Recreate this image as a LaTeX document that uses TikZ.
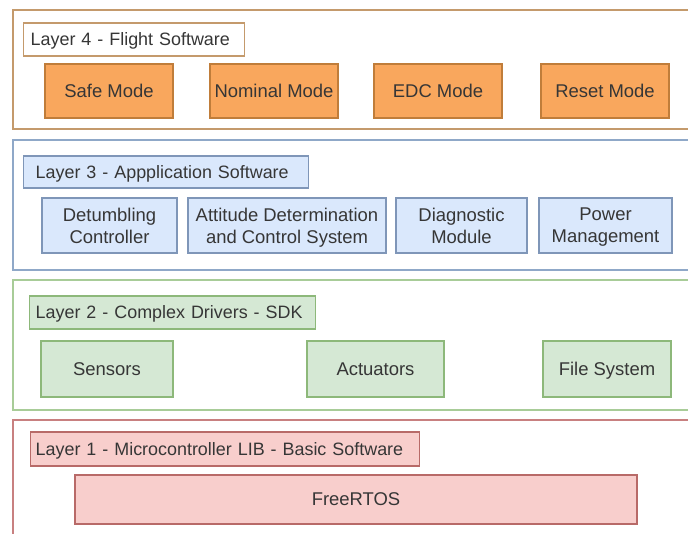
\documentclass[tikz,border=0pt]{standalone}
\usepackage{fontspec}
\setmainfont{Liberation Sans}
\usepackage{xcolor}
\usepackage{tikz}
\definecolor{textgray}{HTML}{363636}
\definecolor{flightline}{HTML}{C49A6C}
\definecolor{flightfill}{HTML}{F9A75D}
\definecolor{flightbox}{HTML}{C07D3A}
\definecolor{appline}{HTML}{8FA8C8}
\definecolor{appfill}{HTML}{DAE8FC}
\definecolor{appbox}{HTML}{7F96B8}
\definecolor{drvline}{HTML}{A8CC98}
\definecolor{drvfill}{HTML}{D5E8D4}
\definecolor{drvbox}{HTML}{8DB87A}
\definecolor{basicline}{HTML}{C88080}
\definecolor{basicfill}{HTML}{F8CECC}
\definecolor{basicbox}{HTML}{B86A68}

\begin{document}
\begin{tikzpicture}[x=0.02cm, y=-0.02cm,
  box/.style={draw, line width=0.8pt, text=textgray, align=center, inner sep=0pt,
    text depth=0pt, font=\fontsize{10.5}{12.6}\selectfont},
  title/.style={box, align=left, inner xsep=0.12cm, anchor=west,
    font=\fontsize{10.2}{12}\selectfont},
  frame/.style={line width=1.1pt}]
  \path[use as bounding box, clip] (0,0) rectangle (688,533);
  \fill[white] (0,0) rectangle (688,533);

  % Layer 4
  \draw[frame, flightline] (13,10) rectangle (700,129);
  \node[title, fill=white, draw=flightline, inner xsep=0.14cm, minimum height=0.66cm,
    text width=4.14cm] (flight) at (23,39.5) {\mbox{Layer 4 - Flight Software}};
  \node[box, fill=flightfill, draw=flightbox, minimum width=2.56cm, minimum height=1.08cm]
    (safe) at (109,91) {Safe Mode};
  \node[box, fill=flightfill, draw=flightbox, minimum width=2.56cm, minimum height=1.08cm]
    (nominal) at (274,91) {Nominal Mode};
  \node[box, fill=flightfill, draw=flightbox, minimum width=2.56cm, minimum height=1.08cm]
    (edc) at (438,91) {EDC Mode};
  \node[box, fill=flightfill, draw=flightbox, minimum width=2.56cm, minimum height=1.08cm]
    (reset) at (605,91) {Reset Mode};

  % Layer 3
  \draw[frame, appline] (13,140) rectangle (700,270);
  \node[title, fill=appfill, draw=appbox, inner xsep=0.24cm, minimum height=0.64cm,
    text width=5.22cm] (app) at (23,172) {\mbox{Layer 3 - Appplication Software}};
  \node[box, fill=appfill, draw=appbox, minimum width=2.70cm, minimum height=1.10cm]
    (detumble) at (109.5,225.5) {Detumbling\\Controller};
  \node[box, fill=appfill, draw=appbox, minimum width=3.96cm, minimum height=1.10cm]
    (adcs) at (287,225.5) {Attitude Determination\\and Control System};
  \node[box, fill=appfill, draw=appbox, minimum width=2.62cm, minimum height=1.10cm]
    (diag) at (461.5,225.5) {Diagnostic\\Module};
  \node[box, fill=appfill, draw=appbox, minimum width=2.66cm, minimum height=1.10cm]
    (power) at (605.5,225.5) {Power\\Management};

  % Layer 2
  \draw[frame, drvline] (13,280) rectangle (700,410);
  \node[title, fill=drvfill, draw=drvbox, minimum height=0.66cm, text width=5.48cm]
    (drivers) at (29,312.5) {\mbox{Layer 2 - Complex Drivers - SDK}};
  \node[box, fill=drvfill, draw=drvbox, minimum width=2.64cm, minimum height=1.12cm]
    (sensors) at (107,369) {Sensors};
  \node[box, fill=drvfill, draw=drvbox, minimum width=2.74cm, minimum height=1.12cm]
    (actuators) at (375.5,369) {Actuators};
  \node[box, fill=drvfill, draw=drvbox, minimum width=2.56cm, minimum height=1.12cm]
    (files) at (607,369) {File System};

  % Layer 1
  \draw[frame, basicline] (13,420) rectangle (700,560);
  \node[title, fill=basicfill, draw=basicbox, inner xsep=0.10cm, minimum height=0.68cm,
    text width=7.58cm] (basic) at (30,449) {\mbox{Layer 1 - Microcontroller LIB - Basic Software}};
  \node[box, fill=basicfill, draw=basicbox, minimum width=11.24cm, minimum height=0.98cm]
    (rtos) at (356,499.5) {FreeRTOS};
\end{tikzpicture}
\end{document}
